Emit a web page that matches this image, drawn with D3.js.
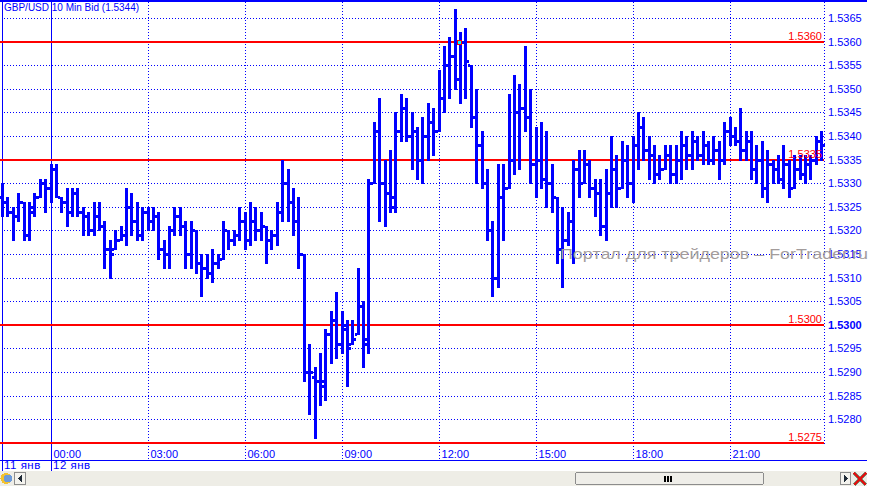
<!DOCTYPE html>
<html>
<head>
<meta charset="utf-8">
<script src="https://cdn.jsdelivr.net/npm/d3@7"></script>
<style>
body { margin: 0; background: #fff; }
svg { display: block; font-family: "Liberation Sans", Arial, sans-serif; }
</style>
</head>
<body>
<script>
// 10 minute GBP/USD bars, 11 Jan 22:30 .. 12 Jan 23:50
const firstBar = new Date(2011, 0, 11, 22, 30);

const opens = [
    1.5327,1.5326,1.5324,1.5323,1.5326,1.5319,1.5324,1.5327,1.5330,1.5329,
    1.5333,1.5327,1.5326,1.5324,1.5328,1.5324,1.5323,1.5320,1.5323,1.5321,
    1.5316,1.5316,1.5318,1.5319,1.5325,1.5322,1.5319,1.5324,1.5322,1.5323,
    1.5316,1.5315,1.5320,1.5323,1.5321,1.5315,1.5320,1.5313,1.5312,1.5311,
    1.5313,1.5314,1.5320,1.5318,1.5319,1.5322,1.5318,1.5322,1.5320,1.5321,
    1.5318,1.5319,1.5324,1.5330,1.5326,1.5322,1.5315,1.5290,1.5289,1.5288,
    1.5287,1.5298,1.5301,1.5296,1.5300,1.5296,1.5298,1.5304,1.5296,1.5330,
    1.5341,1.5330,1.5328,1.5327,1.5341,1.5346,1.5340,1.5341,1.5335,1.5340,
    1.5343,1.5341,1.5348,1.5355,1.5357,1.5352,1.5360,1.5355,1.5344,1.5338,
    1.5330,1.5320,1.5310,1.5327,1.5329,1.5335,1.5345,1.5346,1.5344,1.5334,
    1.5335,1.5331,1.5330,1.5327,1.5316,1.5318,1.5322,1.5333,1.5330,1.5334,
    1.5329,1.5328,1.5321,1.5328,1.5333,1.5329,1.5335,1.5330,1.5338,1.5342,
    1.5337,1.5336,1.5332,1.5333,1.5336,1.5332,1.5335,1.5338,1.5336,1.5339,
    1.5336,1.5338,1.5335,1.5337,1.5335,1.5341,1.5340,1.5339,1.5337,1.5339,
    1.5333,1.5335,1.5329,1.5334,1.5333,1.5331,1.5334,1.5329,1.5333,1.5332,
    1.5334,1.5335,1.5339
];
const highs = [
    1.5330,1.5327,1.5325,1.5328,1.5326,1.5326,1.5328,1.5331,1.5331,1.5334,
    1.5334,1.5327,1.5329,1.5329,1.5329,1.5325,1.5324,1.5326,1.5326,1.5322,
    1.5318,1.5320,1.5321,1.5329,1.5328,1.5326,1.5325,1.5325,1.5325,1.5324,
    1.5318,1.5321,1.5325,1.5325,1.5322,1.5322,1.5320,1.5315,1.5315,1.5316,
    1.5315,1.5322,1.5320,1.5320,1.5325,1.5324,1.5326,1.5325,1.5324,1.5321,
    1.5320,1.5326,1.5335,1.5333,1.5329,1.5327,1.5315,1.5296,1.5291,1.5294,
    1.5299,1.5303,1.5307,1.5303,1.5301,1.5301,1.5312,1.5305,1.5331,1.5343,
    1.5348,1.5335,1.5337,1.5345,1.5349,1.5348,1.5345,1.5342,1.5344,1.5347,
    1.5346,1.5354,1.5359,1.5361,1.5367,1.5362,1.5363,1.5355,1.5350,1.5341,
    1.5333,1.5322,1.5334,1.5334,1.5349,1.5353,1.5351,1.5359,1.5350,1.5342,
    1.5343,1.5341,1.5334,1.5327,1.5325,1.5324,1.5335,1.5337,1.5337,1.5335,
    1.5331,1.5331,1.5333,1.5340,1.5336,1.5339,1.5338,1.5340,1.5345,1.5344,
    1.5340,1.5338,1.5336,1.5338,1.5338,1.5338,1.5341,1.5340,1.5341,1.5340,
    1.5341,1.5339,1.5340,1.5339,1.5343,1.5344,1.5342,1.5346,1.5341,1.5341,
    1.5338,1.5339,1.5337,1.5335,1.5336,1.5338,1.5335,1.5336,1.5336,1.5336,
    1.5336,1.5340,1.5341
];
const lows = [
    1.5323,1.5323,1.5318,1.5322,1.5318,1.5318,1.5323,1.5327,1.5324,1.5326,
    1.5327,1.5324,1.5321,1.5323,1.5323,1.5319,1.5319,1.5319,1.5320,1.5312,
    1.5310,1.5316,1.5318,1.5317,1.5319,1.5318,1.5318,1.5320,1.5320,1.5314,
    1.5312,1.5312,1.5319,1.5319,1.5312,1.5312,1.5311,1.5306,1.5310,1.5309,
    1.5312,1.5314,1.5316,1.5317,1.5318,1.5316,1.5317,1.5318,1.5318,1.5313,
    1.5316,1.5317,1.5322,1.5322,1.5319,1.5312,1.5288,1.5281,1.5276,1.5283,
    1.5284,1.5292,1.5293,1.5294,1.5287,1.5296,1.5298,1.5291,1.5294,1.5330,
    1.5322,1.5321,1.5324,1.5324,1.5339,1.5339,1.5333,1.5331,1.5330,1.5335,
    1.5336,1.5341,1.5345,1.5348,1.5350,1.5347,1.5348,1.5342,1.5330,1.5329,
    1.5318,1.5306,1.5308,1.5318,1.5329,1.5332,1.5333,1.5341,1.5330,1.5327,
    1.5329,1.5325,1.5324,1.5313,1.5308,1.5317,1.5313,1.5327,1.5330,1.5327,
    1.5323,1.5319,1.5318,1.5325,1.5325,1.5329,1.5327,1.5326,1.5333,1.5335,
    1.5331,1.5330,1.5331,1.5333,1.5330,1.5330,1.5331,1.5333,1.5333,1.5335,
    1.5334,1.5334,1.5334,1.5331,1.5334,1.5338,1.5338,1.5335,1.5335,1.5331,
    1.5330,1.5327,1.5326,1.5330,1.5330,1.5329,1.5327,1.5329,1.5331,1.5330,
    1.5331,1.5334,1.5335
];
const closes = [
    1.5326,1.5324,1.5323,1.5326,1.5319,1.5325,1.5327,1.5330,1.5329,1.5333,
    1.5327,1.5326,1.5324,1.5328,1.5324,1.5323,1.5320,1.5323,1.5321,1.5316,
    1.5315,1.5318,1.5319,1.5325,1.5322,1.5319,1.5324,1.5322,1.5323,1.5316,
    1.5315,1.5320,1.5323,1.5321,1.5315,1.5320,1.5313,1.5312,1.5311,1.5313,
    1.5314,1.5320,1.5318,1.5319,1.5322,1.5318,1.5322,1.5320,1.5321,1.5318,
    1.5319,1.5324,1.5330,1.5326,1.5322,1.5315,1.5290,1.5290,1.5288,1.5288,
    1.5298,1.5301,1.5296,1.5299,1.5295,1.5297,1.5304,1.5297,1.5330,1.5341,
    1.5330,1.5328,1.5325,1.5341,1.5346,1.5340,1.5341,1.5335,1.5340,1.5343,
    1.5341,1.5348,1.5355,1.5357,1.5352,1.5360,1.5356,1.5344,1.5338,1.5330,
    1.5320,1.5310,1.5327,1.5329,1.5335,1.5345,1.5346,1.5344,1.5334,1.5335,
    1.5331,1.5330,1.5327,1.5316,1.5318,1.5322,1.5333,1.5330,1.5334,1.5329,
    1.5328,1.5321,1.5328,1.5333,1.5329,1.5335,1.5330,1.5338,1.5342,1.5337,
    1.5336,1.5332,1.5333,1.5336,1.5332,1.5335,1.5338,1.5336,1.5339,1.5336,
    1.5338,1.5335,1.5337,1.5335,1.5341,1.5340,1.5339,1.5337,1.5339,1.5333,
    1.5335,1.5329,1.5334,1.5333,1.5331,1.5334,1.5329,1.5333,1.5332,1.5334,
    1.5335,1.5339,1.5338
];

const priceTicks = [1.5280,1.5285,1.5290,1.5295,1.5300,1.5305,1.5310,1.5315,1.5320,
                    1.5325,1.5330,1.5335,1.5340,1.5345,1.5350,1.5355,1.5360,1.5365];
const levels = [1.5360, 1.5335, 1.5300, 1.5275];
const boldTick = 1.5300;
const dayStarts = [new Date(2011, 0, 11), new Date(2011, 0, 12)];
const dayLabels = ["11 янв", "12 янв"];
const titleText = "GBP/USD 10 Min Bid (1.5344)";
const watermarkText = "Портал для трейдеров – ForTrader.ru";
const markerBar = 85, markerPrice = 1.5360;

const W = 876, H = 486;
const plotRight = 824;
const blue = "#0000ff", red = "#ff0000";

const svg = d3.select("body").append("svg")
    .attr("width", W)
    .attr("height", H)
    .attr("shape-rendering", "crispEdges");

svg.append("rect").attr("width", W).attr("height", H).attr("fill", "#fff");

const barTime = i => d3.timeMinute.offset(firstBar, 10 * i);
const bars = opens.map((o, i) => ({ t: barTime(i), o: o, h: highs[i], l: lows[i], c: closes[i] }));

const x = d3.scaleTime()
    .domain([barTime(0), barTime(bars.length - 1)])
    .range([2.5, 2.5 + (bars.length - 1) * 5.389]);
const y = d3.scaleLinear()
    .domain([1.5275, 1.5360])
    .range([442.7, 41.7]);

const hourTicks = x.ticks(d3.timeHour.every(3));
const isMidnight = d => d.getHours() === 0;

// Title (under the grid lines, like the original)
svg.append("text")
    .attr("x", 4)
    .attr("y", 11)
    .attr("fill", blue)
    .style("font-size", "10px")
    .text(titleText);

// Horizontal dotted grid
svg.append("g").selectAll("line")
    .data(priceTicks)
    .join("line")
    .attr("x1", 4).attr("x2", plotRight)
    .attr("y1", d => Math.round(y(d)) + 0.5)
    .attr("y2", d => Math.round(y(d)) + 0.5)
    .attr("stroke", blue)
    .attr("stroke-dasharray", "1,2");

// Vertical grid: dotted every 3 hours, solid at day change
svg.append("g").selectAll("line")
    .data(hourTicks)
    .join("line")
    .attr("x1", d => Math.floor(x(d)) + 0.5)
    .attr("x2", d => Math.floor(x(d)) + 0.5)
    .attr("y1", d => isMidnight(d) ? 0 : 2)
    .attr("y2", d => isMidnight(d) ? 472 : 460)
    .attr("stroke", blue)
    .attr("stroke-dasharray", d => isMidnight(d) ? null : "1,2");

// frame lines
svg.append("line").attr("x1", 2.5).attr("x2", 2.5).attr("y1", 0).attr("y2", 472).attr("stroke", blue);
svg.append("line").attr("x1", 0).attr("x2", 867).attr("y1", 460.5).attr("y2", 460.5).attr("stroke", blue);
svg.append("rect").attr("x", 0).attr("y", 0).attr("width", 867).attr("height", 2).attr("fill", blue);
svg.append("line")
    .attr("x1", plotRight + 0.5).attr("x2", plotRight + 0.5)
    .attr("y1", 2).attr("y2", 446)
    .attr("stroke", blue)
    .attr("stroke-dasharray", "1,2");

// Red level lines
svg.append("g").selectAll("rect")
    .data(levels)
    .join("rect")
    .attr("x", 0)
    .attr("y", d => Math.round(y(d)) - 1)
    .attr("width", plotRight)
    .attr("height", 2)
    .attr("fill", red);

// OHLC bars
const barG = svg.append("g").attr("fill", blue);
bars.forEach(b => {
    const cx = Math.floor(x(b.t));
    const yh = Math.round(y(b.h)), yl = Math.round(y(b.l));
    barG.append("rect").attr("x", cx - 1).attr("y", yh).attr("width", 3).attr("height", yl - yh + 1);
    barG.append("rect").attr("x", cx - 3).attr("y", Math.round(y(b.o)) - 1).attr("width", 2).attr("height", 3);
    barG.append("rect").attr("x", cx + 2).attr("y", Math.round(y(b.c)) - 1).attr("width", 2).attr("height", 3);
});

// alert marker
svg.append("rect")
    .attr("x", Math.floor(x(barTime(markerBar))) - 2.5)
    .attr("y", Math.round(y(markerPrice)) - 1.5)
    .attr("width", 4).attr("height", 4)
    .attr("fill", "#00ffff")
    .attr("stroke", red);

// Level labels
svg.append("g").selectAll("text")
    .data(levels)
    .join("text")
    .attr("x", plotRight - 2)
    .attr("y", d => Math.round(y(d)) - 2)
    .attr("text-anchor", "end")
    .attr("fill", red)
    .style("font-size", "11px")
    .text(d3.format(".4f"));

// Price axis
const yAxis = svg.append("g")
    .attr("transform", "translate(" + (plotRight + 2) + ",0)")
    .call(d3.axisRight(y).tickValues(priceTicks).tickFormat(d3.format(".4f")).tickSize(0).tickPadding(2));
yAxis.select(".domain").remove();
yAxis.attr("font-family", null).attr("font-size", null);
yAxis.selectAll("text")
    .attr("fill", blue)
    .style("font-size", "11px")
    .style("font-weight", d => d === boldTick ? "bold" : null);

// Time axis
const xAxis = svg.append("g")
    .attr("transform", "translate(0,458)")
    .call(d3.axisBottom(x).tickValues(hourTicks).tickFormat(d3.timeFormat("%H:%M")).tickSize(0));
xAxis.select(".domain").remove();
xAxis.attr("font-family", null).attr("font-size", null);
xAxis.selectAll("text")
    .attr("y", 0).attr("dy", null)
    .attr("x", 2)
    .attr("text-anchor", "start")
    .attr("fill", blue)
    .style("font-size", "11px");

// Day labels
svg.append("g").selectAll("text")
    .data(dayStarts)
    .join("text")
    .attr("x", d => Math.max(4, Math.floor(x(d)) + 2))
    .attr("y", 469)
    .attr("fill", blue)
    .style("font-size", "11.5px")
    .style("letter-spacing", "0.5px")
    .text((d, i) => dayLabels[i]);

// Watermark
svg.append("text")
    .attr("x", 560)
    .attr("y", 258.5)
    .attr("fill", "#a39c9c")
    .attr("textLength", 308)
    .attr("lengthAdjust", "spacingAndGlyphs")
    .style("font-size", "15px")
    .attr("shape-rendering", null)
    .text(watermarkText);

// Scroll bar row
const sb = svg.append("g");
sb.append("rect").attr("x", 0).attr("y", 471).attr("width", 867).attr("height", 15).attr("fill", "#eeede6");
// globe icon
sb.append("circle").attr("cx", 6).attr("cy", 478.5).attr("r", 5.5).attr("fill", "#f2c230").attr("shape-rendering", null);
sb.append("circle").attr("cx", 8).attr("cy", 478.5).attr("r", 4).attr("fill", "#6d9ad8").attr("shape-rendering", null);
// left button
sb.append("rect").attr("x", 14.5).attr("y", 472.5).attr("width", 11).attr("height", 12)
    .attr("fill", "#f4f3ee").attr("stroke", "#8d8d8d");
sb.append("path").attr("d", "M18,478.5 L22,475 L22,482 Z").attr("fill", "#1f2a36").attr("shape-rendering", null);
// thumb
sb.append("rect").attr("x", 575.5).attr("y", 472.5).attr("width", 188).attr("height", 12).attr("rx", 2)
    .attr("fill", "#efeee9").attr("stroke", "#8c8c8c");
[664, 667, 670].forEach(gx => {
    sb.append("rect").attr("x", gx).attr("y", 476).attr("width", 2).attr("height", 6).attr("fill", "#000");
});
// right button
sb.append("rect").attr("x", 840.5).attr("y", 472.5).attr("width", 10).attr("height", 12)
    .attr("fill", "#f4f3ee").attr("stroke", "#8d8d8d");
sb.append("path").attr("d", "M844,475 L848,478.5 L844,482 Z").attr("fill", "#1f2a36").attr("shape-rendering", null);
// close icon
sb.append("path").attr("d", "M854,473 L866,485 M866,473 L854,485")
    .attr("stroke", "#7a8a70").attr("stroke-width", 3).attr("shape-rendering", null);
sb.append("path").attr("d", "M854,473 L866,485 M866,473 L854,485")
    .attr("stroke", "#e01010").attr("stroke-width", 1.5).attr("shape-rendering", null);
</script>
</body>
</html>
